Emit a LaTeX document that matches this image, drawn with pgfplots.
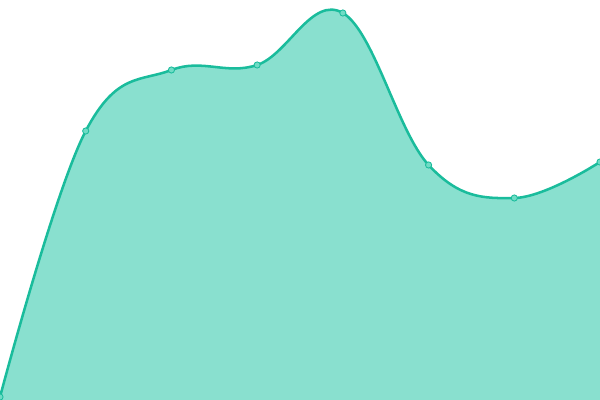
\documentclass[border=0pt]{standalone}
\usepackage{pgfplots}
\pgfplotsset{compat=1.18}
\definecolor{lineC}{HTML}{1ABC9C}
\definecolor{fillC}{HTML}{89E0CF}
\definecolor{markC}{HTML}{6FDCC5}
\pgfplotstableread{
x y
0 3
1 269
2 330
3 335
4 387
5 235
6 202
7 238
}\datatable
\begin{document}
\begin{tikzpicture}
\begin{axis}[
  scale only axis,
  width=15cm, height=10cm,
  hide axis,
  xmin=0, xmax=7,
  ymin=0, ymax=400,
  clip=true,
]
% area
\addplot[draw=none, fill=fillC, smooth, tension=0.65, forget plot]
  table {\datatable} \closedcycle;
% line with marks
\addplot[
  draw=lineC, line width=1.8pt,
  smooth, tension=0.65,
  mark=*, mark size=2.2pt,
  mark options={fill=markC, draw=lineC, line width=0.6pt},
] table {\datatable};
\end{axis}
\pgfresetboundingbox
\path[use as bounding box] (current axis.south west) rectangle (current axis.north east);
\end{tikzpicture}
\end{document}
